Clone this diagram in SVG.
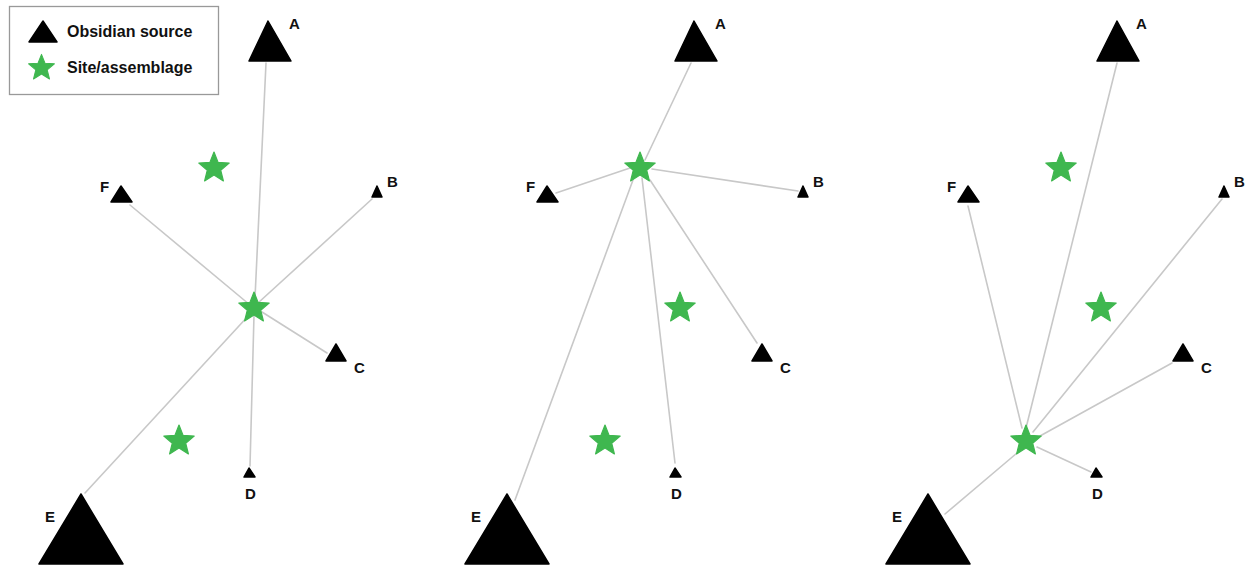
<svg xmlns="http://www.w3.org/2000/svg" xmlns:xlink="http://www.w3.org/1999/xlink" width="1247" height="567" viewBox="0 0 1247 567">
<style>
.lbl{font-family:"Liberation Sans",Arial,sans-serif;font-weight:bold;font-size:15px;fill:#111}
.leg{font-family:"Liberation Sans",Arial,sans-serif;font-weight:bold;font-size:16px;fill:#111}
.tri{fill:#000;stroke:#000;stroke-width:1.5;stroke-linejoin:round}
.edge{stroke:#c8c8c8;stroke-width:1.6;fill:none;stroke-linecap:round}
.star{fill:#3fb74f;stroke:#3fb74f;stroke-width:1.2;stroke-linejoin:round}
</style>
<defs>
<path id="star" d="M0,-16 L4.1,-5.6 L15.2,-4.9 L6.7,2.2 L9.4,12.9 L0,7 L-9.4,12.9 L-6.7,2.2 L-15.2,-4.9 L-4.1,-5.6 Z"/>
</defs>
<rect width="1247" height="567" fill="#fff"/>
<g id="legend">
<rect x="9.5" y="6.5" width="209" height="88" fill="#fff" stroke="#999" stroke-width="1.3"/>
<polygon class="tri" points="43,21 29,42 57,42"/>
<text class="leg" x="67" y="37">Obsidian source</text>
<use href="#star" xlink:href="#star" class="star" x="41.5" y="68" transform="translate(41.5,68) scale(0.85) translate(-41.5,-68)"/>
<text class="leg" x="67" y="73">Site/assemblage</text>
</g>

<!-- Panel 1 -->
<g id="panel1">
<g id="p1-connectors">
<line class="edge" x1="266" y1="63" x2="255" y2="298"/>
<line class="edge" x1="130" y1="205" x2="250" y2="305"/>
<line class="edge" x1="372" y1="199" x2="258" y2="303"/>
<line class="edge" x1="327" y1="353" x2="262" y2="312"/>
<line class="edge" x1="250" y1="466" x2="254" y2="315"/>
<line class="edge" x1="85" y1="493" x2="250" y2="314"/>
</g>
<g id="p1-A"><polygon class="tri" points="268,21 249,61 291,61"/><text class="lbl" x="289" y="29">A</text></g>
<g id="p1-B"><polygon class="tri" points="377,186 372,197 382,197"/><text class="lbl" x="387" y="187">B</text></g>
<g id="p1-C"><polygon class="tri" points="336,344 326,361 346,361"/><text class="lbl" x="354" y="373">C</text></g>
<g id="p1-D"><polygon class="tri" points="249,468 244,477 255,477"/><text class="lbl" x="245" y="499">D</text></g>
<g id="p1-E"><polygon class="tri" points="81,494 39,564 123,564"/><text class="lbl" x="45" y="522">E</text></g>
<g id="p1-F"><polygon class="tri" points="121,186 111,202 132,202"/><text class="lbl" x="100" y="192">F</text></g>
<g id="p1-S1"><use href="#star" xlink:href="#star" class="star" x="214" y="168"/></g>
<g id="p1-S2"><use href="#star" xlink:href="#star" class="star" x="254" y="308"/></g>
<g id="p1-S3"><use href="#star" xlink:href="#star" class="star" x="179" y="441"/></g>
</g>

<!-- Panel 2 -->
<g id="panel2" transform="translate(426,0)">
<g id="p2-connectors">
<line class="edge" x1="265" y1="63" x2="219" y2="160"/>
<line class="edge" x1="130" y1="193" x2="204" y2="168"/>
<line class="edge" x1="226" y1="169" x2="372" y2="191"/>
<line class="edge" x1="224" y1="180" x2="331" y2="343"/>
<line class="edge" x1="216" y1="178" x2="249" y2="463"/>
<line class="edge" x1="207" y1="180" x2="89" y2="500"/>
</g>
<g id="p2-A"><polygon class="tri" points="268,21 249,61 291,61"/><text class="lbl" x="289" y="29">A</text></g>
<g id="p2-B"><polygon class="tri" points="377,186 372,197 382,197"/><text class="lbl" x="387" y="187">B</text></g>
<g id="p2-C"><polygon class="tri" points="336,344 326,361 346,361"/><text class="lbl" x="354" y="373">C</text></g>
<g id="p2-D"><polygon class="tri" points="249,468 244,477 255,477"/><text class="lbl" x="245" y="499">D</text></g>
<g id="p2-E"><polygon class="tri" points="81,494 39,564 123,564"/><text class="lbl" x="45" y="522">E</text></g>
<g id="p2-F"><polygon class="tri" points="121,186 111,202 132,202"/><text class="lbl" x="100" y="192">F</text></g>
<g id="p2-S1"><use href="#star" xlink:href="#star" class="star" x="214" y="168"/></g>
<g id="p2-S2"><use href="#star" xlink:href="#star" class="star" x="254" y="308"/></g>
<g id="p2-S3"><use href="#star" xlink:href="#star" class="star" x="179" y="441"/></g>
</g>

<!-- Panel 3 -->
<g id="panel3" transform="translate(847,0)">
<g id="p3-connectors">
<line class="edge" x1="270" y1="63" x2="179" y2="428"/>
<line class="edge" x1="121" y1="206" x2="175" y2="428"/>
<line class="edge" x1="375" y1="199" x2="186" y2="432"/>
<line class="edge" x1="325" y1="363" x2="193" y2="436"/>
<line class="edge" x1="190" y1="447" x2="244" y2="472"/>
<line class="edge" x1="98" y1="514" x2="170" y2="453"/>
</g>
<g id="p3-A"><polygon class="tri" points="270,21 250,61 292,61"/><text class="lbl" x="289" y="29">A</text></g>
<g id="p3-B"><polygon class="tri" points="377,186 372,197 382,197"/><text class="lbl" x="387" y="187">B</text></g>
<g id="p3-C"><polygon class="tri" points="336,344 326,361 346,361"/><text class="lbl" x="354" y="373">C</text></g>
<g id="p3-D"><polygon class="tri" points="249,468 244,477 255,477"/><text class="lbl" x="245" y="499">D</text></g>
<g id="p3-E"><polygon class="tri" points="81,494 39,564 123,564"/><text class="lbl" x="45" y="522">E</text></g>
<g id="p3-F"><polygon class="tri" points="121,186 111,202 132,202"/><text class="lbl" x="100" y="192">F</text></g>
<g id="p3-S1"><use href="#star" xlink:href="#star" class="star" x="214" y="168"/></g>
<g id="p3-S2"><use href="#star" xlink:href="#star" class="star" x="254" y="308"/></g>
<g id="p3-S3"><use href="#star" xlink:href="#star" class="star" x="179" y="441"/></g>
</g>
</svg>
